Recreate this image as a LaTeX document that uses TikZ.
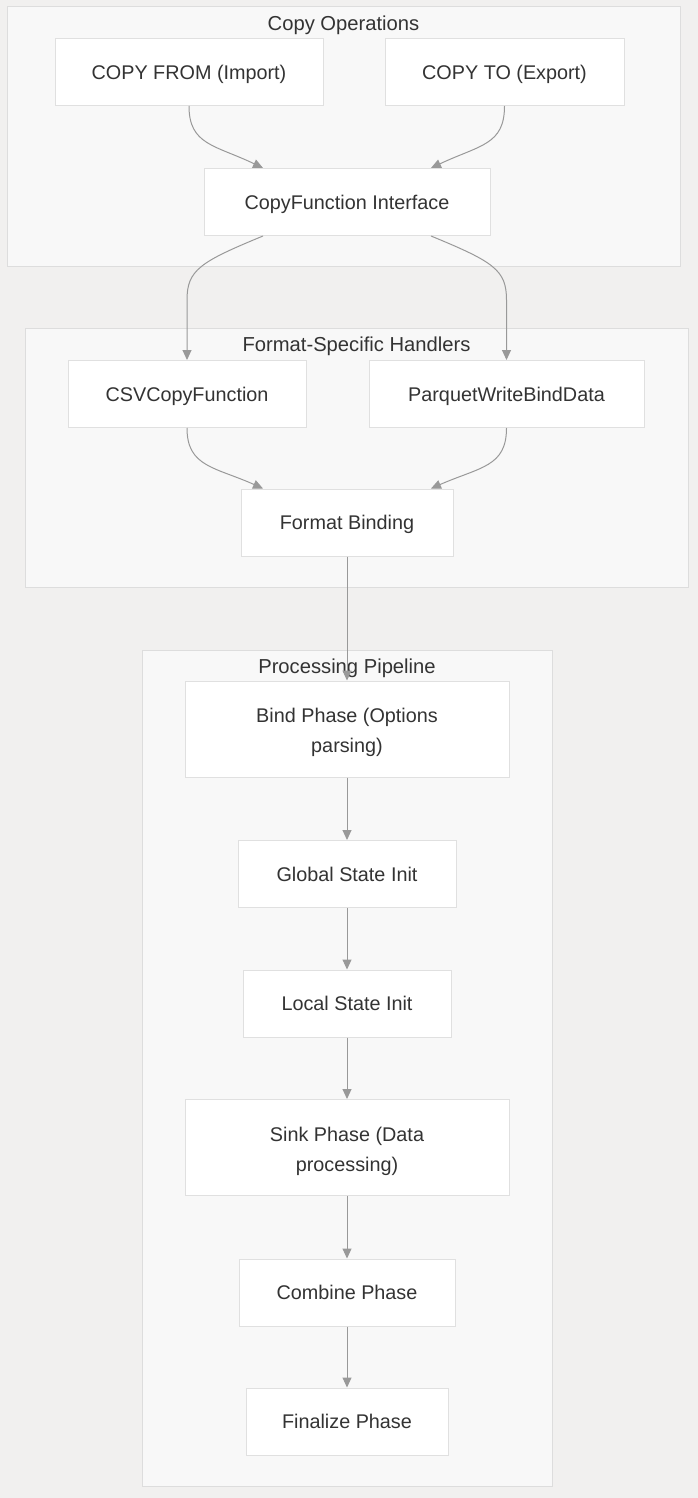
\documentclass[tikz,border=0pt]{standalone}
\usepackage{fontspec}
\setmainfont{Liberation Sans}
\usetikzlibrary{arrows.meta,calc}
\definecolor{bgc}{HTML}{F1F0EF}
\definecolor{clfill}{HTML}{F8F8F8}
\definecolor{clline}{HTML}{DDDDDD}
\definecolor{ndline}{HTML}{E0E0E0}
\definecolor{txt}{HTML}{333333}
\definecolor{edge}{HTML}{999999}
\tikzset{
  cluster/.style={draw=clline, fill=clfill, line width=1pt},
  cltitle/.style={text=txt, font=\fontsize{20.2}{24}\selectfont, inner sep=0pt,
    text height=14.5pt, text depth=0pt},
  box/.style={draw=ndline, fill=white, line width=1pt, inner sep=0pt, text=txt,
    font=\fontsize{19.8}{30}\selectfont, text height=14.2pt, text depth=0pt},
  twobox/.style={draw=ndline, fill=white, line width=1pt, inner sep=0pt},
  twotext/.style={inner sep=0pt, text=txt, font=\fontsize{19.8}{30}\selectfont, align=center},
  conn/.style={draw=edge, line width=1pt, -{Triangle[length=10pt,width=9pt]}},
}
\begin{document}
\begin{tikzpicture}[x=1pt,y=-1pt]
\useasboundingbox[fill=bgc] (0,0) rectangle (698,1498);
% clusters
\draw[cluster] (7,7) rectangle (680,266);
\node[cltitle] (t1) at (343.5,23) {Copy Operations};
\draw[cluster] (25,328) rectangle (688,587);
\node[cltitle] (t2) at (356.5,344) {Format-Specific Handlers};
\draw[cluster] (142,650) rectangle (552,1486);
\node[cltitle] (t3) at (347,666) {Processing Pipeline};
% nodes
\node[box, minimum width=268, minimum height=67] (from) at (189,72) {COPY FROM (Import)};
\node[box, minimum width=239, minimum height=67] (to) at (504.5,72) {COPY TO (Export)};
\node[box, minimum width=286, minimum height=67] (cf) at (347,202) {CopyFunction Interface};
\node[box, minimum width=238, minimum height=67] (csv) at (187,394) {CSVCopyFunction};
\node[box, minimum width=275, minimum height=67] (pq) at (506.5,394) {ParquetWriteBindData};
\node[box, minimum width=212, minimum height=67] (fb) at (347,522.5) {Format Binding};
\node[twobox, minimum width=324, minimum height=96] (bind) at (347,729) {};
\node[twotext, yshift=-3.5pt] (bindt) at (bind.center) {Bind Phase (Options\\parsing)};
\node[box, minimum width=218, minimum height=67] (gs) at (347,874) {Global State Init};
\node[box, minimum width=208, minimum height=67] (ls) at (347,1003.5) {Local State Init};
\node[twobox, minimum width=324, minimum height=96] (sink) at (347,1147.5) {};
\node[twotext, yshift=-3.5pt] (sinkt) at (sink.center) {Sink Phase (Data\\processing)};
\node[box, minimum width=216, minimum height=67] (comb) at (347,1292.5) {Combine Phase};
\node[box, minimum width=202, minimum height=67] (fin) at (347,1421.5) {Finalize Phase};
% edges
\draw[conn] (from.south) .. controls (189,145) and (215,145) .. ([xshift=-84pt]cf.north);
\draw[conn] (to.south) .. controls (504.5,145) and (480,145) .. ([xshift=84pt]cf.north);
\draw[conn] ([xshift=-84pt]cf.south) .. controls (200,262) and (187,270) .. (187,300) -- (csv.north);
\draw[conn] ([xshift=84pt]cf.south) .. controls (494,262) and (506.5,270) .. (506.5,300) -- (pq.north);
\draw[conn] (csv.south) .. controls (187,467) and (215,467) .. ([xshift=-84pt]fb.north);
\draw[conn] (pq.south) .. controls (506.5,467) and (480,467) .. ([xshift=84pt]fb.north);
\draw[conn] (fb.south) -- (bind.north);
\draw[conn] (bind.south) -- (gs.north);
\draw[conn] (gs.south) -- (ls.north);
\draw[conn] (ls.south) -- (sink.north);
\draw[conn] (sink.south) -- (comb.north);
\draw[conn] (comb.south) -- (fin.north);
\end{tikzpicture}
\end{document}
